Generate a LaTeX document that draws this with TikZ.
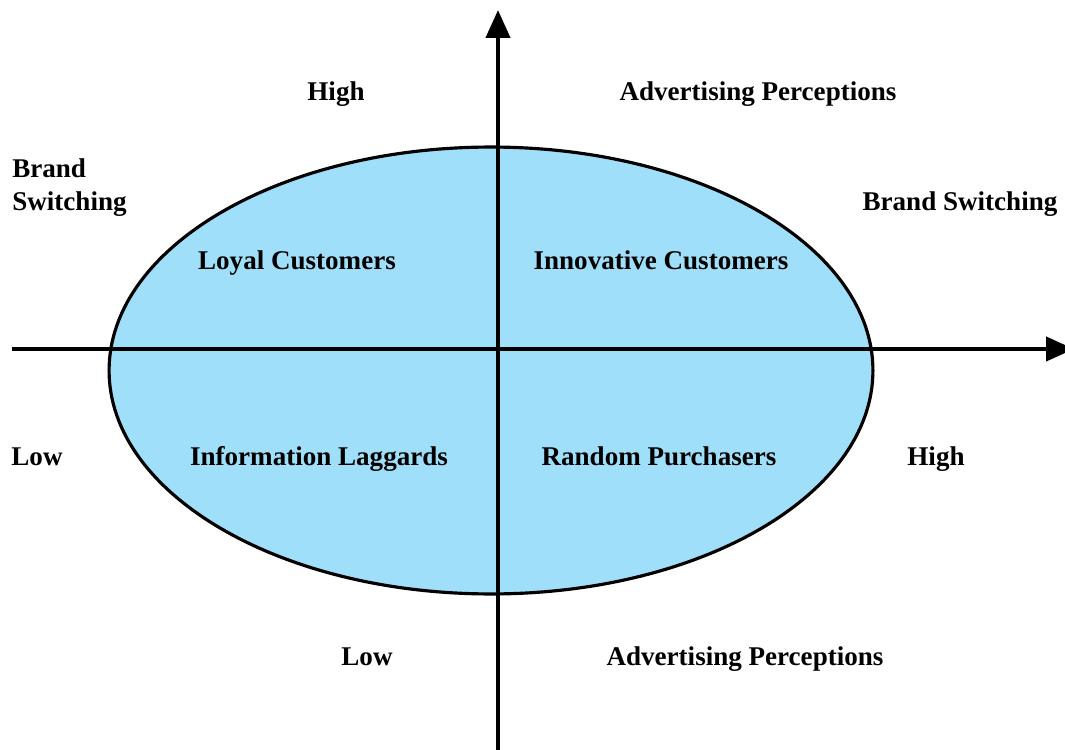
\documentclass[tikz,border=0pt]{standalone}
\usepackage{fontspec}
\setmainfont{Liberation Serif}
\usetikzlibrary{arrows.meta, positioning, shapes.geometric}
\definecolor{segblue}{HTML}{A0DFFA}
\tikzset{
  axis/.style={line width=2.4pt, -{Triangle[length=0.56cm, width=0.48cm]}},
  segfill/.style={draw=black, line width=1.8pt, fill=segblue, inner sep=0pt},
  lbl/.style={font=\fontsize{15.4}{18.8}\selectfont\bfseries, inner sep=0pt,
              text height=10.3pt, text depth=0pt},
}

\begin{document}
\begin{tikzpicture}[x=0.02cm, y=-0.02cm]
  \useasboundingbox (0,0) rectangle (1065,750);

  %% -- segment ellipse --------------------------------------------------
  \node[segfill, ellipse, minimum width=15.28cm, minimum height=8.94cm]
    (seg) at (491,370.5) {};

  %% -- axes ------------------------------------------------------------
  \coordinate (ybot) at (498,752);
  \coordinate (ytop) at (498,10);
  \coordinate (xlft) at (12,349);
  \coordinate (xrgt) at (1074,349);
  \draw[axis] (xlft) -- (xrgt);
  \draw[axis] (ybot) -- (ytop);

  %% -- quadrant names ---------------------------------------------------
  \node[lbl] (loyal) at (297,260) {Loyal Customers};
  \node[lbl] (innov) at (661,260) {Innovative Customers};
  \node[lbl] (laggd) at (319,456) {Information Laggards};
  \node[lbl] (rndm)  at (659,456) {Random Purchasers};

  %% -- axis labels ------------------------------------------------------
  \node[lbl] (yhigh) at (336,91) {High};
  \node[lbl] (ytxt)  at (758,91) {Advertising Perceptions};
  \node[lbl] (ylow)  at (367,656) {Low};
  \node[lbl] (ytxtb) at (745,656) {Advertising Perceptions};

  \node[font=\fontsize{15.4}{18.8}\selectfont\bfseries, inner sep=0pt,
        align=left, anchor=west] (xtxt) at (12,187.5) {Brand\\Switching};
  \node[lbl] (xtxtr) at (960,201) {Brand Switching};
  \node[lbl] (xlow)  at (37,456) {Low};
  \node[lbl] (xhigh) at (936,456) {High};
\end{tikzpicture}
\end{document}
